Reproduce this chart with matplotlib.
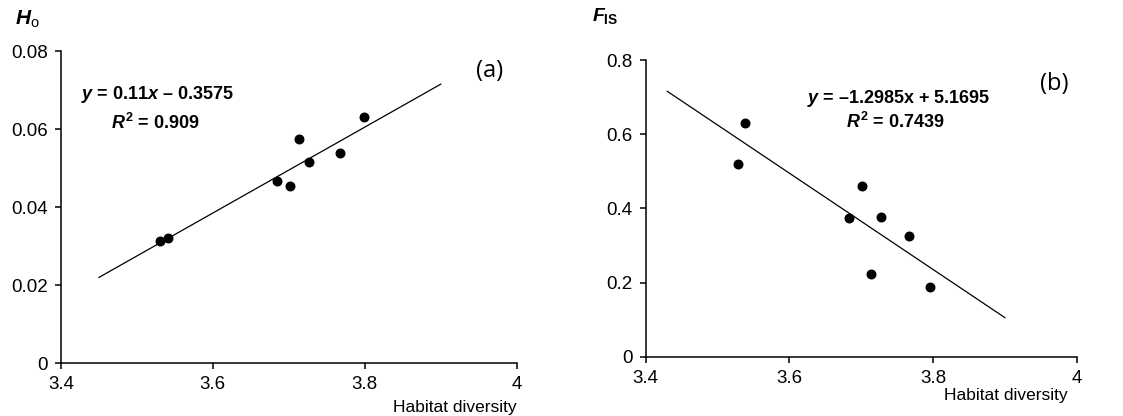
import matplotlib
matplotlib.use("Agg")
import matplotlib.pyplot as plt
from matplotlib.ticker import FuncFormatter

# data
habitat = [3.530, 3.541, 3.684, 3.701, 3.713, 3.727, 3.767, 3.799]
ho = [0.0312, 0.0321, 0.0468, 0.0454, 0.0575, 0.0515, 0.0538, 0.0630]

habitat_b = [3.529, 3.538, 3.683, 3.701, 3.713, 3.727, 3.767, 3.796]
fis = [0.519, 0.630, 0.373, 0.460, 0.223, 0.378, 0.325, 0.189]

fit_a = (0.11, -0.3575)
fit_b = (-1.2985, 5.1695)
fit_a_range = [3.45, 3.90]
fit_b_range = [3.43, 3.90]

xticks = [3.4, 3.6, 3.8, 4.0]
yticks_a = [0, 0.02, 0.04, 0.06, 0.08]
yticks_b = [0, 0.2, 0.4, 0.6, 0.8]

plt.rcParams["font.family"] = ["Liberation Sans", "DejaVu Sans"]
plt.rcParams["mathtext.fontset"] = "custom"
plt.rcParams["mathtext.rm"] = "Liberation Sans"
plt.rcParams["mathtext.it"] = "Liberation Sans:italic:bold"
plt.rcParams["mathtext.bf"] = "Liberation Sans:bold"

fig = plt.figure(figsize=(11.23, 4.16), dpi=100)
ax1 = fig.add_axes([0.0543, 0.1267, 0.4058, 0.7507])
ax2 = fig.add_axes([0.575, 0.1425, 0.3838, 0.7132])

fmt = FuncFormatter(lambda v, p: "%g" % v)


def style(ax, yticks):
    for s in ["top", "right"]:
        ax.spines[s].set_visible(False)
    for s in ["left", "bottom"]:
        ax.spines[s].set_linewidth(1.1)
    ax.set_xlim(3.4, 4.0)
    ax.set_ylim(yticks[0], yticks[-1])
    ax.set_xticks(xticks)
    ax.set_yticks(yticks)
    ax.xaxis.set_major_formatter(fmt)
    ax.yaxis.set_major_formatter(fmt)
    ax.tick_params(direction="out", length=4.5, width=1.1, labelsize=13.5, pad=5)


# panel (a)
style(ax1, yticks_a)
ax1.scatter(habitat, ho, s=38, color="black", zorder=3)
ya = [fit_a[0] * x + fit_a[1] for x in fit_a_range]
ax1.plot(fit_a_range, ya, color="black", lw=0.9)
ax1.text(0.043, 0.86, r"$\mathit{y}$ = 0.11$\mathit{x}$ – 0.3575", transform=ax1.transAxes,
         fontsize=13, fontweight="bold", va="center")
ax1.text(0.11, 0.77, r"$\mathit{R}^\mathbf{2}$ = 0.909", transform=ax1.transAxes,
         fontsize=13, fontweight="bold", va="center")
ax1.text(0.97, 0.935, "(a)", transform=ax1.transAxes, fontsize=17,
         family="Open Sans", ha="right", va="center")
ax1.text(-0.1, 1.1, r"$\mathit{H}_\mathrm{o}$", transform=ax1.transAxes,
         fontsize=15, va="center")
ax1.text(1.0, -0.14, "Habitat diversity", transform=ax1.transAxes,
         fontsize=12.5, ha="right", va="center")

# panel (b)
style(ax2, yticks_b)
ax2.scatter(habitat_b, fis, s=38, color="black", zorder=3)
yb = [fit_b[0] * x + fit_b[1] for x in fit_b_range]
ax2.plot(fit_b_range, yb, color="black", lw=0.9)
ax2.text(0.375, 0.87, r"$\mathit{y}$ = –1.2985x + 5.1695", transform=ax2.transAxes,
         fontsize=13, fontweight="bold", va="center")
ax2.text(0.465, 0.79, r"$\mathit{R}^\mathbf{2}$ = 0.7439", transform=ax2.transAxes,
         fontsize=13, fontweight="bold", va="center")
ax2.text(0.98, 0.92, "(b)", transform=ax2.transAxes, fontsize=17,
         family="Open Sans", ha="right", va="center")
ax2.text(-0.125, 1.15, r"$\mathit{F}_\mathbf{IS}$", transform=ax2.transAxes,
         fontsize=14, va="center")
ax2.text(0.98, -0.13, "Habitat diversity", transform=ax2.transAxes,
         fontsize=12.5, ha="right", va="center")

fig.savefig("out.png", dpi=100)
